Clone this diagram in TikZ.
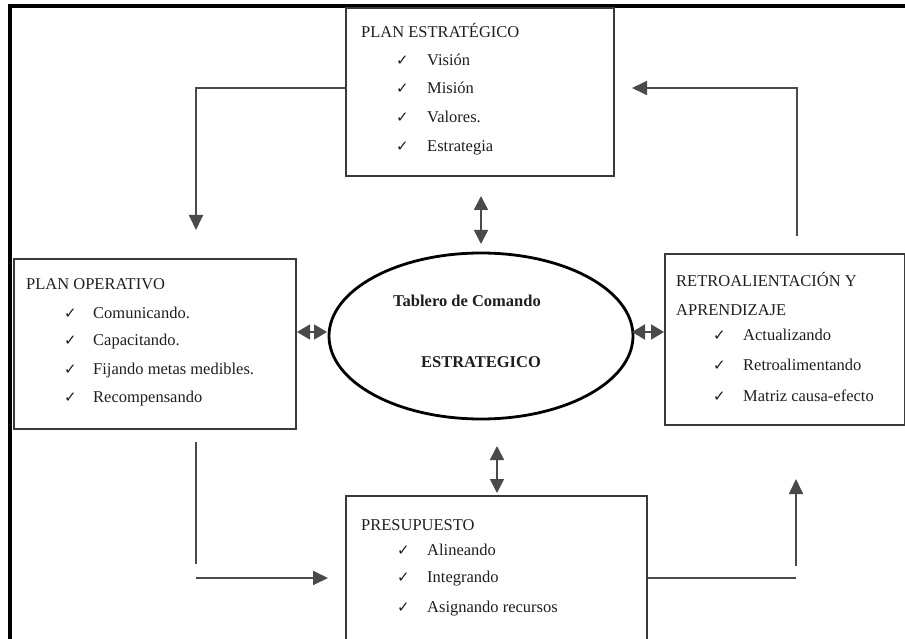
\documentclass[tikz,border=0pt]{standalone}
\usepackage{fontspec}
\setmainfont{Liberation Serif}
\newfontfamily\checkfont{DejaVu Sans}
\usetikzlibrary{arrows.meta,shapes.geometric}
\definecolor{boxline}{HTML}{3A3A3A}
\definecolor{connline}{HTML}{4A4A4A}
\definecolor{ink}{HTML}{1E1E1E}
\begin{document}
\begin{tikzpicture}[x=1pt,y=-1pt,
  box/.style={draw=boxline, line width=1.8pt, rectangle, inner sep=0pt, anchor=north west},
  hub/.style={draw=black, line width=2.8pt, ellipse, inner sep=0pt},
  lbl/.style={anchor=base west, inner sep=0pt, text=ink, font=\fontsize{16.5}{18}\selectfont},
  hubtext/.style={anchor=base, inner sep=0pt, text=ink, font=\fontsize{16.5}{18}\selectfont\bfseries},
  tick/.style={anchor=base west, inner sep=0pt, text=ink, font=\checkfont\fontsize{15}{16}\selectfont},
  conn/.style={draw=connline, line width=1.8pt},
  tip/.style={conn, -{Triangle[length=15pt,width=14pt]}},
  both/.style={conn, {Triangle[length=14pt,width=14pt]}-{Triangle[length=14pt,width=14pt]}},
  shortboth/.style={conn, {Triangle[length=13pt,width=15pt]}-{Triangle[length=13pt,width=15pt]}}
]
\useasboundingbox (0,0) rectangle (905,639);

% page frame
\draw[black, line width=3.5pt] (10,660) -- (10,6) -- (920,6);

% boxes
\node[box, minimum width=268pt, minimum height=168pt] (pe) at (345,7) {};
\node[box, minimum width=282pt, minimum height=170pt] (po) at (13,258) {};
\node[box, minimum width=240pt, minimum height=171pt] (ra) at (664,253) {};
\node[box, minimum width=301pt, minimum height=170pt] (pr) at (345,495) {};
\node[hub, minimum width=304pt, minimum height=166pt] (tc) at (481,336) {};

% central ellipse text
\node[hubtext] (tc1) at (467,306.5) {Tablero de Comando};
\node[hubtext] (tc2) at (481,367.5) {ESTRATEGICO};

% PLAN ESTRATEGICO
\node[lbl] (pe0) at (361,37.5) {PLAN ESTRATÉGICO};
\node[tick] (pec1) at (396,65.5) {✓};
\node[lbl] (pe1) at (427,65.5) {Visión};
\node[tick] (pec2) at (396,93.5) {✓};
\node[lbl] (pe2) at (427,93.5) {Misión};
\node[tick] (pec3) at (396,122.5) {✓};
\node[lbl] (pe3) at (427,122.5) {Valores.};
\node[tick] (pec4) at (396,151.5) {✓};
\node[lbl] (pe4) at (427,151.5) {Estrategia};

% PLAN OPERATIVO
\node[lbl] (po0) at (26,289.5) {PLAN OPERATIVO};
\node[tick] (poc1) at (64,318.5) {✓};
\node[lbl] (po1) at (93,318.5) {Comunicando.};
\node[tick] (poc2) at (64,345.5) {✓};
\node[lbl] (po2) at (93,345.5) {Capacitando.};
\node[tick] (poc3) at (64,374.5) {✓};
\node[lbl] (po3) at (93,374.5) {Fijando metas medibles.};
\node[tick] (poc4) at (64,402.5) {✓};
\node[lbl] (po4) at (93,402.5) {Recompensando};

% RETROALIMENTACION
\node[lbl] (ra0) at (676,286) {RETROALIENTACIÓN Y};
\node[lbl] (ra1) at (676,315.5) {APRENDIZAJE};
\node[tick] (rac1) at (713,340) {✓};
\node[lbl] (ra2) at (743,340) {Actualizando};
\node[tick] (rac2) at (713,370.5) {✓};
\node[lbl] (ra3) at (743,370.5) {Retroalimentando};
\node[tick] (rac3) at (713,401.5) {✓};
\node[lbl] (ra4) at (743,401.5) {Matriz causa-efecto};

% PRESUPUESTO
\node[lbl] (pr0) at (361,530.5) {PRESUPUESTO};
\node[tick] (prc1) at (397,555.5) {✓};
\node[lbl] (pr1) at (427,555.5) {Alineando};
\node[tick] (prc2) at (397,582.5) {✓};
\node[lbl] (pr2) at (427,582.5) {Integrando};
\node[tick] (prc3) at (397,612.5) {✓};
\node[lbl] (pr3) at (427,612.5) {Asignando recursos};

% free ends of the cycle connectors
\coordinate (toprow) at (0,88);
\coordinate (botrow) at (0,578);
\coordinate (po-in) at (196,230);
\coordinate (pe-in) at (632,88);
\coordinate (ra-out) at (797,236);
\coordinate (po-out) at (196,442);
\coordinate (po-end) at (196,564);
\coordinate (pr-from) at (196,578);
\coordinate (pr-in) at (328,578);
\coordinate (pr-out) at (796,578);
\coordinate (ra-from) at (796,566);
\coordinate (ra-in) at (796,479);

% cycle: estrategico -> operativo -> presupuesto -> retroalimentacion -> estrategico
\draw[tip] (pe.west |- toprow) -| (po-in);
\draw[conn] (po-out) -- (po-end);
\draw[tip] (pr-from) -- (pr-in);
\draw[conn] (pr.east |- botrow) -- (pr-out);
\draw[tip] (ra-from) -- (ra-in);
\draw[tip] (ra-out) |- (pe-in);

% links with the central board
\coordinate (n1) at (481,196);
\coordinate (n2) at (481,244);
\coordinate (s1) at (497,446);
\coordinate (s2) at (497,493);
\coordinate (w1) at (297,332);
\coordinate (w2) at (327,332);
\coordinate (e1) at (632,332);
\coordinate (e2) at (664,332);
\draw[both] (n1) -- (n2);
\draw[both] (s1) -- (s2);
\draw[shortboth] (w1) -- (w2);
\draw[shortboth] (e1) -- (e2);
\end{tikzpicture}
\end{document}
